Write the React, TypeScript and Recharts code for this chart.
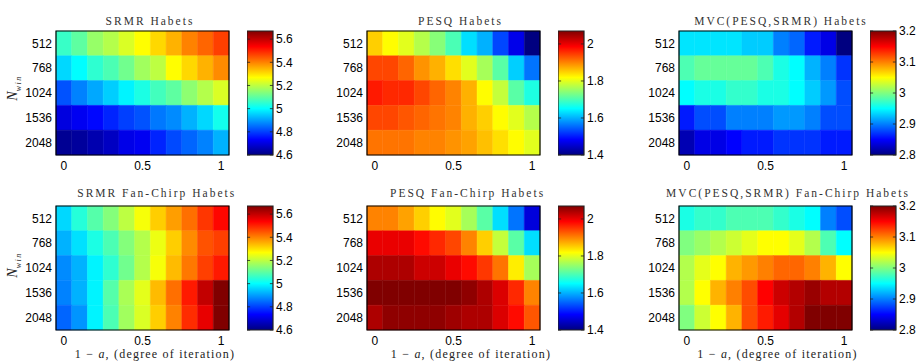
import React from "react";
import { ScatterChart, Scatter, XAxis, YAxis, ReferenceArea, ReferenceLine } from "recharts";

// 1 - a, (degree of iteration)
const iterations = [0, 0.1, 0.2, 0.3, 0.4, 0.5, 0.6, 0.7, 0.8, 0.9, 1];
const nWin = ["512", "768", "1024", "1536", "2048"];

const srmrTicks = [4.6, 4.8, 5, 5.2, 5.4, 5.6];
const pesqTicks = [1.4, 1.6, 1.8, 2];
const mvcTicks = [2.8, 2.9, 3, 3.1, 3.2];

// rows = N_win, cols = iterations
const srmrHabets = [
  [5.06, 5.1, 5.16, 5.19, 5.23, 5.27, 5.31, 5.35, 5.4, 5.43, 5.47],
  [4.96, 5.0, 5.05, 5.08, 5.12, 5.17, 5.2, 5.27, 5.31, 5.35, 5.39],
  [4.82, 4.87, 4.91, 4.95, 4.99, 5.03, 5.07, 5.1, 5.15, 5.19, 5.23],
  [4.7, 4.72, 4.74, 4.77, 4.8, 4.82, 4.86, 4.88, 4.92, 4.96, 5.02],
  [4.62, 4.63, 4.65, 4.67, 4.71, 4.72, 4.77, 4.81, 4.84, 4.87, 4.92],
];
const pesqHabets = [
  [1.85, 1.82, 1.8, 1.77, 1.74, 1.7, 1.63, 1.6, 1.53, 1.47, 1.4],
  [1.94, 1.94, 1.92, 1.89, 1.87, 1.84, 1.8, 1.76, 1.71, 1.62, 1.56],
  [1.97, 1.96, 1.96, 1.94, 1.92, 1.9, 1.87, 1.82, 1.78, 1.71, 1.67],
  [1.94, 1.94, 1.93, 1.92, 1.91, 1.9, 1.87, 1.85, 1.82, 1.8, 1.77],
  [1.91, 1.91, 1.91, 1.9, 1.9, 1.89, 1.88, 1.86, 1.84, 1.82, 1.8],
];
const mvcHabets = [
  [2.94, 2.94, 2.94, 2.94, 2.93, 2.93, 2.9, 2.89, 2.86, 2.84, 2.8],
  [2.98, 2.99, 2.99, 2.99, 2.99, 2.98, 2.96, 2.95, 2.92, 2.9, 2.87],
  [2.95, 2.96, 2.96, 2.97, 2.97, 2.96, 2.96, 2.95, 2.93, 2.91, 2.88],
  [2.86, 2.88, 2.88, 2.9, 2.9, 2.9, 2.91, 2.91, 2.9, 2.88, 2.88],
  [2.82, 2.84, 2.84, 2.85, 2.86, 2.86, 2.87, 2.87, 2.87, 2.86, 2.86],
];
const srmrFanChirp = [
  [4.96, 5.04, 5.09, 5.14, 5.2, 5.26, 5.32, 5.37, 5.42, 5.48, 5.53],
  [4.92, 4.97, 5.03, 5.08, 5.14, 5.19, 5.25, 5.32, 5.39, 5.45, 5.47],
  [4.88, 4.92, 4.99, 5.05, 5.12, 5.19, 5.26, 5.34, 5.41, 5.47, 5.51],
  [4.87, 4.92, 4.99, 5.09, 5.18, 5.24, 5.34, 5.42, 5.51, 5.6, 5.67],
  [4.84, 4.89, 4.99, 5.08, 5.17, 5.23, 5.32, 5.4, 5.49, 5.56, 5.67],
];
const pesqFanChirp = [
  [1.9, 1.9, 1.88, 1.85, 1.82, 1.8, 1.76, 1.71, 1.63, 1.56, 1.46],
  [2.0, 2.0, 2.0, 1.98, 1.96, 1.94, 1.9, 1.85, 1.78, 1.71, 1.63],
  [2.04, 2.04, 2.04, 2.02, 2.02, 2.0, 1.98, 1.95, 1.91, 1.83, 1.76],
  [2.07, 2.07, 2.07, 2.07, 2.07, 2.07, 2.06, 2.04, 2.01, 1.96, 1.9],
  [2.04, 2.06, 2.06, 2.06, 2.06, 2.05, 2.04, 2.04, 2.01, 1.98, 1.93],
];
const mvcFanChirp = [
  [2.96, 2.97, 2.97, 2.98, 2.98, 2.98, 2.97, 2.96, 2.95, 2.9, 2.88],
  [3.0, 3.01, 3.02, 3.03, 3.04, 3.05, 3.05, 3.04, 3.02, 2.98, 2.95],
  [3.02, 3.04, 3.05, 3.08, 3.09, 3.1, 3.11, 3.11, 3.1, 3.08, 3.05],
  [3.02, 3.05, 3.08, 3.1, 3.12, 3.15, 3.17, 3.18, 3.19, 3.18, 3.18],
  [3.0, 3.03, 3.05, 3.08, 3.12, 3.14, 3.16, 3.18, 3.2, 3.2, 3.2],
];

// layout
const PW = 173;
const PH = 124;
const CBW = 26;
const YW = 40;
const XH = 22;
const colLeft = [56, 367, 679];
const cbLeft = [247, 558, 870];
const rowTop = [31, 206];

const tickFont = { fontSize: 12, fill: "#000", fontFamily: "'Liberation Sans', Arial, sans-serif" };
const serif = "'Liberation Serif', 'Times New Roman', serif";

function jet(t: number) {
  const c = (v: number) => Math.round(255 * Math.max(0, Math.min(1, v)));
  return `rgb(${c(1.5 - Math.abs(4 * t - 3))},${c(1.5 - Math.abs(4 * t - 2))},${c(1.5 - Math.abs(4 * t - 1))})`;
}

type HeatProps = { data: number[][]; lo: number; hi: number; left: number; top: number };

function Heatmap({ data, lo, hi, left, top }: HeatProps) {
  const cells = data.flatMap((row, r) =>
    row.map((v, c) => ({ x: iterations[c], y: r + 1, v }))
  );
  return (
    <div style={{ position: "absolute", left: left - YW, top: top - 1 }}>
      <ScatterChart width={YW + PW + 1} height={PH + 1 + XH} margin={{ top: 1, right: 1, bottom: 0, left: 0 }}>
        <XAxis
          type="number"
          dataKey="x"
          domain={[-0.05, 1.05]}
          ticks={[0, 0.5, 1]}
          allowDataOverflow
          height={XH}
          axisLine={false}
          tickLine={false}
          tickSize={4}
          tickMargin={2}
          tick={tickFont}
        />
        <YAxis
          type="number"
          dataKey="y"
          domain={[0.5, 5.5]}
          ticks={[1, 2, 3, 4, 5]}
          reversed
          allowDataOverflow
          width={YW}
          axisLine={false}
          tickLine={false}
          tickSize={2}
          tickMargin={2}
          tick={tickFont}
          tickFormatter={(i: number) => nWin[i - 1]}
        />
        <Scatter data={cells} isAnimationActive={false} shape={() => <g />} />
        {cells.map((d) => (
          <ReferenceArea
            key={`${d.x}-${d.y}`}
            x1={d.x - 0.05}
            x2={d.x + 0.05}
            y1={d.y - 0.5}
            y2={d.y + 0.5}
            fill={jet((d.v - lo) / (hi - lo))}
            fillOpacity={1}
            stroke={jet((d.v - lo) / (hi - lo))}
            strokeWidth={0.5}
          />
        ))}
        <ReferenceArea x1={-0.05} x2={1.05} y1={0.5} y2={5.5} fill="none" stroke="#000" strokeWidth={1.2} />
      </ScatterChart>
    </div>
  );
}

type BarProps = { lo: number; hi: number; ticks: number[]; left: number; top: number };

function ColorBar({ lo, hi, ticks, left, top }: BarProps) {
  return (
    <div style={{ position: "absolute", left, top: top - 10 }}>
      <ScatterChart width={CBW + 34} height={PH + 20} margin={{ top: 10, right: 0, bottom: 10, left: 0 }}>
        <XAxis type="number" dataKey="x" domain={[0, 1]} hide />
        <YAxis
          type="number"
          dataKey="y"
          orientation="right"
          domain={[lo, hi]}
          ticks={ticks}
          allowDataOverflow
          width={34}
          axisLine={false}
          tickLine={false}
          tickSize={1}
          tickMargin={2}
          tick={{ ...tickFont, textAnchor: "start" }}
          tickFormatter={(v: number) => String(v)}
        />
        <Scatter data={[{ x: 0.5, y: lo }]} isAnimationActive={false} shape={() => <g />} />
        <ReferenceArea x1={0} x2={1} y1={lo} y2={hi} fill="url(#jetGrad)" fillOpacity={1} stroke="#222" strokeWidth={1.2} />
        {ticks.map((t) => (
          <React.Fragment key={t}>
            <ReferenceLine segment={[{ x: 0, y: t }, { x: 0.12, y: t }]} stroke="#222" strokeWidth={0.8} />
            <ReferenceLine segment={[{ x: 0.88, y: t }, { x: 1, y: t }]} stroke="#222" strokeWidth={0.8} />
          </React.Fragment>
        ))}
      </ScatterChart>
    </div>
  );
}

const titleStyle: React.CSSProperties = {
  position: "absolute",
  width: 320,
  textAlign: "center",
  fontFamily: serif,
  fontSize: 11.5,
  letterSpacing: 2,
  color: "#333",
  lineHeight: "14px",
  whiteSpace: "nowrap",
};

function Title({ text, cx, cy }: { text: string; cx: number; cy: number }) {
  return <div style={{ ...titleStyle, left: cx - 160, top: cy - 7 }}>{text}</div>;
}

function XLabel({ cx }: { cx: number }) {
  return (
    <div style={{ ...titleStyle, letterSpacing: 1.2, fontSize: 12, left: cx - 160, top: 354 - 7, color: "#222" }}>
      1 − <i>a</i>, (degree of iteration)
    </div>
  );
}

function YLabel({ cy }: { cy: number }) {
  return (
    <div
      style={{
        position: "absolute",
        left: 13 - 30,
        top: cy - 8,
        width: 60,
        height: 16,
        lineHeight: "16px",
        textAlign: "center",
        transform: "rotate(-90deg)",
        fontFamily: serif,
        fontSize: 14,
        color: "#222",
        whiteSpace: "nowrap",
      }}
    >
      <i>N</i>
      <sub style={{ fontSize: 8, letterSpacing: 1.5 }}>
        <i>win</i>
      </sub>
    </div>
  );
}

const panels = [
  { data: srmrHabets, lo: 4.6, hi: 5.67, ticks: srmrTicks, col: 0, row: 0, title: "SRMR Habets", tx: 150 },
  { data: pesqHabets, lo: 1.4, hi: 2.07, ticks: pesqTicks, col: 1, row: 0, title: "PESQ Habets", tx: 460.5 },
  { data: mvcHabets, lo: 2.8, hi: 3.2, ticks: mvcTicks, col: 2, row: 0, title: "MVC(PESQ,SRMR) Habets", tx: 781 },
  { data: srmrFanChirp, lo: 4.6, hi: 5.67, ticks: srmrTicks, col: 0, row: 1, title: "SRMR Fan-Chirp Habets", tx: 156.7 },
  { data: pesqFanChirp, lo: 1.4, hi: 2.07, ticks: pesqTicks, col: 1, row: 1, title: "PESQ Fan-Chirp Habets", tx: 467.6 },
  { data: mvcFanChirp, lo: 2.8, hi: 3.2, ticks: mvcTicks, col: 2, row: 1, title: "MVC(PESQ,SRMR) Fan-Chirp Habets", tx: 788 },
];

export default function App() {
  return (
    <div style={{ position: "relative", width: 918, height: 363, background: "#fff", overflow: "hidden" }}>
      <style>{"body{margin:0}"}</style>
      <svg width={0} height={0} style={{ position: "absolute" }}>
        <defs>
          <linearGradient id="jetGrad" x1="0" y1="1" x2="0" y2="0">
            <stop offset="0" stopColor="rgb(0,0,128)" />
            <stop offset="0.125" stopColor="rgb(0,0,255)" />
            <stop offset="0.375" stopColor="rgb(0,255,255)" />
            <stop offset="0.625" stopColor="rgb(255,255,0)" />
            <stop offset="0.875" stopColor="rgb(255,0,0)" />
            <stop offset="1" stopColor="rgb(128,0,0)" />
          </linearGradient>
        </defs>
      </svg>
      {panels.map((p) => (
        <React.Fragment key={p.title}>
          <Title text={p.title} cx={p.tx} cy={p.row === 0 ? 21 : 193} />
          <Heatmap data={p.data} lo={p.lo} hi={p.hi} left={colLeft[p.col]} top={rowTop[p.row]} />
          <ColorBar lo={p.lo} hi={p.hi} ticks={p.ticks} left={cbLeft[p.col]} top={rowTop[p.row]} />
        </React.Fragment>
      ))}
      <YLabel cy={88} />
      <YLabel cy={265} />
      <XLabel cx={155} />
      <XLabel cx={471} />
      <XLabel cx={777.5} />
    </div>
  );
}
